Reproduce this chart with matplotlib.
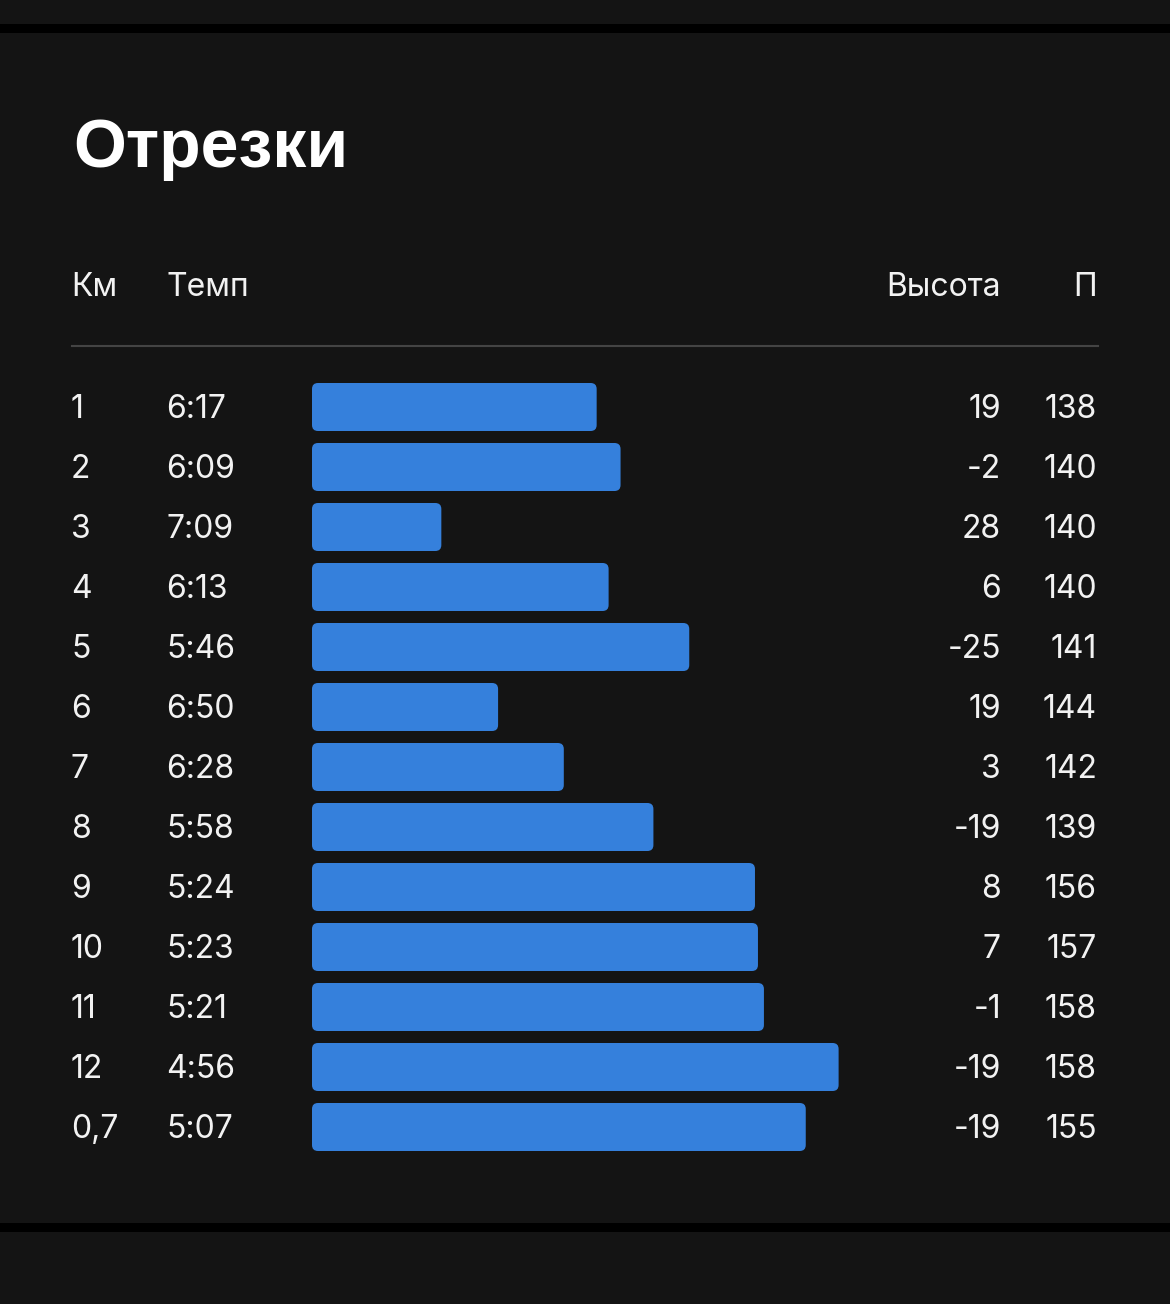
import numpy as np
import matplotlib
matplotlib.use('Agg')
import matplotlib.pyplot as plt
from matplotlib.patches import FancyBboxPatch

# Data
km_labels = ['1', '2', '3', '4', '5', '6', '7', '8', '9', '10', '11', '12', '0,7']
pace_labels = ['6:17', '6:09', '7:09', '6:13', '5:46', '6:50', '6:28', '5:58',
               '5:24', '5:23', '5:21', '4:56', '5:07']
elevation = [19, -2, 28, 6, -25, 19, 3, -19, 8, 7, -1, -19, -19]
heart_rate = [138, 140, 140, 140, 141, 144, 142, 139, 156, 157, 158, 158, 155]

pace_sec = np.array([int(p.split(':')[0]) * 60 + int(p.split(':')[1]) for p in pace_labels])

# Style
bg = '#141414'
txt = '#f2f2f2'
bar_color = '#3580dc'
body_font = ['Inter', 'DejaVu Sans']
title_font = ['Liberation Sans', 'DejaVu Sans']

W, H = 1170, 1304
fig = plt.figure(figsize=(W / 100, H / 100), dpi=100)
fig.patch.set_facecolor(bg)
ax = fig.add_axes([0, 0, 1, 1])
ax.set_xlim(0, W)
ax.set_ylim(H, 0)
ax.axis('off')
ax.set_facecolor(bg)

# black separator bands
ax.axhspan(24, 33, color='black', lw=0)
ax.axhspan(1223, 1232, color='black', lw=0)

# Title
ax.text(73, 149, 'Отрезки', color='white', fontsize=49, fontweight='bold',
        family=title_font, va='center', ha='left')

# Header
head_y = 287
fs = 23
ax.text(71, head_y, 'Км', color=txt, fontsize=fs, family=body_font, va='center')
ax.text(166, head_y, 'Темп', color=txt, fontsize=fs, family=body_font, va='center')
ax.text(1001, head_y, 'Высота', color=txt, fontsize=fs, family=body_font, va='center', ha='right')
ax.plot([72, 1098], [345.5, 345.5], color='#444444', lw=1.5)
ax.text(1097, head_y, 'П', color=txt, fontsize=fs, family=body_font, va='center', ha='right')

# Rows: bar length grows as pace gets faster
row0, row_step = 407, 60
rows = row0 + row_step * np.arange(len(km_labels))
slow_ref = 472.3      # pace (s) that maps to zero length
px_per_sec = 2.987
bar_left = 312
widths = (slow_ref - pace_sec) * px_per_sec

bars = ax.barh(rows, widths, left=bar_left, height=48, color=bar_color)
for rect in bars.patches:
    x, y = rect.get_x(), rect.get_y()
    w, h = rect.get_width(), rect.get_height()
    rect.remove()
    ax.add_patch(FancyBboxPatch((x, y), w, h, boxstyle='round,pad=0,rounding_size=6',
                                fc=bar_color, ec='none'))

text_dy = 2
for i, y in enumerate(rows):
    ax.text(71, y + text_dy, km_labels[i], color=txt, fontsize=fs, family=body_font, va='center')
    ax.text(166, y + text_dy, pace_labels[i], color=txt, fontsize=fs, family=body_font, va='center')
    ax.text(1001, y + text_dy, str(elevation[i]), color=txt, fontsize=fs, family=body_font,
            va='center', ha='right')
    ax.text(1097, y + text_dy, str(heart_rate[i]), color=txt, fontsize=fs, family=body_font,
            va='center', ha='right')

fig.savefig('out.png', dpi=100, facecolor=bg)
